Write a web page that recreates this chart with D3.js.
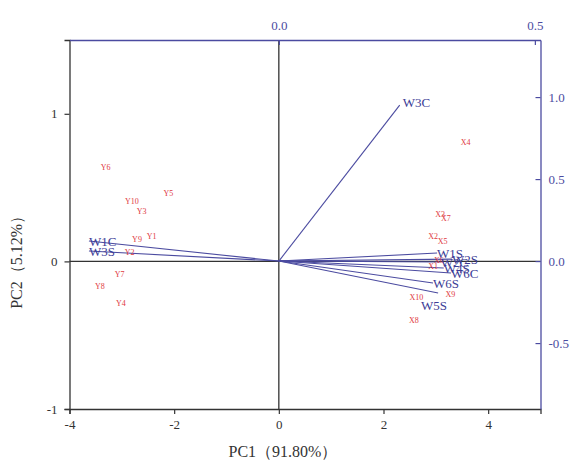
<!DOCTYPE html>
<html>
<head>
<meta charset="utf-8">
<script src="https://cdn.jsdelivr.net/npm/d3@7"></script>
<style>
  body { margin: 0; background: #fff; }
  svg text { font-family: "Liberation Serif", serif !important; }
</style>
</head>
<body>
<div id="chart"></div>
<script>
// scores (PC1, PC2) on bottom/left axes
const scoreNames = ["Y1", "Y2", "Y3", "Y4", "Y5", "Y6", "Y7", "Y8", "Y9", "Y10",
    "X1", "X2", "X3", "X4", "X5", "X6", "X7", "X8", "X9", "X10"];
const scorePC1 = [-2.43, -2.85, -2.62, -3.02, -2.11, -3.31, -3.04, -3.42, -2.71, -2.81,
    2.95, 2.95, 3.08, 3.57, 3.13, 3.06, 3.19, 2.58, 3.28, 2.63];
const scorePC2 = [0.17, 0.06, 0.34, -0.28, 0.46, 0.64, -0.09, -0.17, 0.15, 0.41,
    -0.03, 0.17, 0.32, 0.81, 0.14, 0.01, 0.29, -0.40, -0.22, -0.24];

// loadings on top/right axes
const loadNames = ["W1C", "W3S", "W3C", "W1S", "W2C", "W4S", "W2S", "W6C", "W6S", "W5S"];
const loadPC1 = [-0.371, -0.371, 0.236, 0.309, 0.316, 0.322, 0.338, 0.336, 0.301, 0.311];
const loadPC2 = [0.122, 0.061, 0.951, 0.049, -0.006, -0.042, 0.012, -0.073, -0.134, -0.195];

const bottomTicks = [-4, -2, 0, 2, 4];
const leftTicks = [-1, 0, 1];
const topTicks = [0.0, 0.5];
const rightTicks = [-0.5, 0.0, 0.5, 1.0];

const width = 574, height = 466;
const box = { left: 69.5, right: 540.5, top: 40, bottom: 409 };
const black = "#333", blue = "#4b4ba0", red = "#e0393e";
const serif = "'Liberation Serif', serif";

const svg = d3.select("#chart").append("svg")
    .attr("width", width)
    .attr("height", height);

// scales
const x = d3.scaleLinear().domain([-4, 5]).range([box.left, box.right]);
const y = d3.scaleLinear().domain([-1, 1.5]).range([box.bottom, box.top]);
const xTop = d3.scaleLinear().domain([-0.409, 0.511]).range([box.left, box.right]);
const yRight = d3.scaleLinear().domain([-0.902, 1.348]).range([box.bottom, box.top]);

// plain hyphen instead of unicode minus
const intFmt = d => String(d);
const oneFmt = d => d.toFixed(1);

// zero lines
svg.append("line")
    .attr("x1", box.left).attr("x2", box.right)
    .attr("y1", y(0)).attr("y2", y(0))
    .attr("stroke", black).attr("stroke-width", 1.3);
svg.append("line")
    .attr("x1", x(0)).attr("x2", x(0))
    .attr("y1", box.top).attr("y2", box.bottom)
    .attr("stroke", black).attr("stroke-width", 1.3);

function styleAxis(g, color) {
    g.attr("font-family", serif);
    g.select(".domain").attr("stroke", color).attr("stroke-width", 1.3);
    g.selectAll(".tick line").attr("stroke", color).attr("stroke-width", 1.2);
    g.selectAll(".tick text")
        .attr("fill", color)
        .style("font-size", "13px");
}

// bottom axis
const gBottom = svg.append("g").attr("transform", `translate(0,${box.bottom})`);
gBottom.call(d3.axisBottom(x).tickValues([-3, -1, 1, 3]).tickSize(3).tickFormat(""));
gBottom.call(d3.axisBottom(x).tickValues(bottomTicks).tickSize(5).tickPadding(6).tickFormat(intFmt));
styleAxis(gBottom, black);

// left axis
const gLeft = svg.append("g").attr("transform", `translate(${box.left},0)`);
gLeft.call(d3.axisLeft(y).tickValues([-0.5, 0.5]).tickSize(3).tickFormat(""));
gLeft.call(d3.axisLeft(y).tickValues(leftTicks).tickSize(5).tickPadding(7).tickFormat(intFmt));
styleAxis(gLeft, black);

// top axis (inward ticks)
const gTop = svg.append("g").attr("transform", `translate(0,${box.top})`);
gTop.call(d3.axisTop(xTop).tickValues([-0.25, 0.25]).tickSizeInner(-3).tickSizeOuter(0).tickFormat(""));
gTop.call(d3.axisTop(xTop).tickValues(topTicks).tickSizeInner(-5).tickSizeOuter(0).tickPadding(10).tickFormat(oneFmt));
styleAxis(gTop, blue);

// right axis (inward ticks)
const gRight = svg.append("g").attr("transform", `translate(${box.right},0)`);
gRight.call(d3.axisRight(yRight).tickValues([-0.75, -0.25, 0.25, 0.75, 1.25]).tickSizeInner(-3).tickSizeOuter(0).tickFormat(""));
gRight.call(d3.axisRight(yRight).tickValues(rightTicks).tickSizeInner(-5).tickSizeOuter(0).tickPadding(8).tickFormat(oneFmt));
styleAxis(gRight, blue);

// loading vectors
const loadings = loadNames.map((n, i) => ({ name: n, pc1: loadPC1[i], pc2: loadPC2[i] }));
const labelNudge = { W5S: [-17, 12], W3C: [3, -3] };

svg.append("g").selectAll("line")
    .data(loadings)
    .join("line")
    .attr("x1", xTop(0)).attr("y1", yRight(0))
    .attr("x2", d => xTop(d.pc1)).attr("y2", d => yRight(d.pc2))
    .attr("stroke", blue)
    .attr("stroke-width", 1.1);

// scores
const scores = scoreNames.map((n, i) => ({ name: n, pc1: scorePC1[i], pc2: scorePC2[i] }));
svg.append("g").selectAll("text")
    .data(scores)
    .join("text")
    .attr("x", d => x(d.pc1))
    .attr("y", d => y(d.pc2))
    .attr("text-anchor", "middle")
    .attr("dy", "0.35em")
    .attr("fill", red)
    .attr("font-family", serif)
    .style("font-size", "8px")
    .text(d => d.name);

svg.append("g").selectAll("text")
    .data(loadings)
    .join("text")
    .attr("x", d => xTop(d.pc1) + (labelNudge[d.name] ? labelNudge[d.name][0] : 0))
    .attr("y", d => yRight(d.pc2) + (labelNudge[d.name] ? labelNudge[d.name][1] : 0))
    .attr("dy", "0.35em")
    .attr("fill", "#3c3c96")
    .attr("font-family", serif)
    .style("font-size", "13px")
    .text(d => d.name);

// axis titles
svg.append("text")
    .attr("x", (box.left + box.right) / 2 - 22)
    .attr("y", 457)
    .attr("text-anchor", "middle")
    .attr("fill", black)
    .attr("font-family", serif)
    .style("font-size", "16px")
    .text("PC1（91.80%）");

svg.append("text")
    .attr("transform", `translate(22,${y(0) - 3}) rotate(-90)`)
    .attr("text-anchor", "middle")
    .attr("fill", black)
    .attr("font-family", serif)
    .style("font-size", "16px")
    .text("PC2（5.12%）");
</script>
</body>
</html>
